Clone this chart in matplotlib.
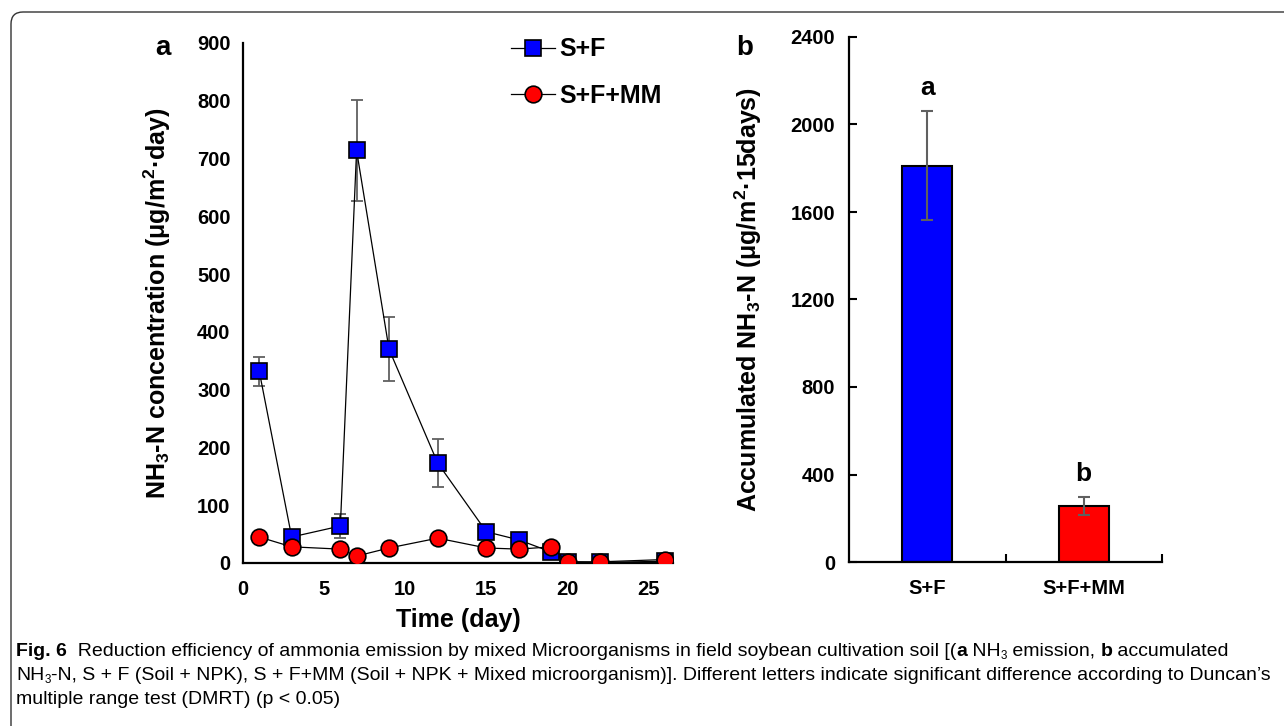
import matplotlib
matplotlib.use("Agg")
import matplotlib.pyplot as plt
from matplotlib.patches import FancyBboxPatch
from matplotlib.transforms import IdentityTransform

plt.rcParams['font.family'] = ['Liberation Sans', 'DejaVu Sans']
plt.rcParams['font.weight'] = 'bold'
plt.rcParams['mathtext.fontset'] = 'custom'
plt.rcParams['mathtext.rm'] = 'Liberation Sans'
plt.rcParams['mathtext.bf'] = 'Liberation Sans:bold'

# panel a: daily NH3-N emission
days = [1, 3, 6, 7, 9, 12, 15, 17, 19, 20, 22, 26]
sf = [332, 45, 64, 714, 370, 173, 54, 40, 19, 2, 1, 3]
sf_err = [25, 6, 20, 87, 55, 42, 6, 5, 4, 2, 1, 2]
sfmm = [45, 28, 24, 12, 26, 43, 26, 24, 28, 2, 2, 6]
sfmm_err = [4, 4, 4, 3, 4, 4, 4, 3, 4, 1, 1, 1]

# panel b: accumulated NH3-N
treatments = ['S+F', 'S+F+MM']
accum = [1812, 257]
accum_err = [248, 40]
letters = ['a', 'b']
bar_colors = ['#0000FF', '#FF0000']

W, H = 1284, 726
fig = plt.figure(figsize=(W / 100, H / 100), dpi=100)

# ---- panel a ----
ax = fig.add_axes([243 / W, 1 - 563 / H, 430 / W, 520 / H])
ax.errorbar(days, sf, yerr=sf_err, fmt='none', ecolor='#606060', elinewidth=1.3,
            capsize=4, capthick=1.3, zorder=2)
ax.plot(days, sf, '-s', color='black', lw=0.9, ms=11.5, mfc='#0000FF', mec='black',
        mew=1.2, label='S+F', zorder=3)
ax.plot(days, sfmm, '-o', color='black', lw=0.9, ms=12, mfc='#FF0000', mec='black',
        mew=1.2, label='S+F+MM', zorder=4)
ax.set_xlim(0, 26.5)
ax.set_ylim(0, 900)
ax.set_xticks([0, 5, 10, 15, 20, 25])
ax.set_yticks(range(0, 901, 100))
ax.tick_params(axis='y', length=0, labelsize=14.5, pad=9)
ax.tick_params(axis='x', length=0, labelsize=14.5, pad=12)
for s in ['top', 'right']:
    ax.spines[s].set_visible(False)
for s in ['left', 'bottom']:
    ax.spines[s].set_linewidth(1.6)
ax.set_xlabel('Time (day)', fontsize=18, fontweight='bold', labelpad=7)
ax.set_ylabel(r'NH$_3$-N concentration (μg/m$^2$·day)', fontsize=18, fontweight='bold', labelpad=17)
ax.legend(loc='upper left', bbox_to_anchor=(0.6, 1.03), frameon=False, fontsize=18,
          handlelength=1.75, handletextpad=0.2, labelspacing=0.9, borderaxespad=0)
fig.text(163 / W, 1 - 48 / H, 'a', fontsize=20, fontweight='bold', ha='center', va='center')

# ---- panel b ----
bx = fig.add_axes([849 / W, 1 - 562 / H, 313 / W, 525 / H])
pos = list(range(len(treatments)))
bx.bar(pos, accum, width=0.32, color=bar_colors, edgecolor='black', linewidth=1.5, zorder=2)
bx.errorbar(pos, accum, yerr=accum_err, fmt='none', ecolor='#606060', elinewidth=1.5,
            capsize=4, capthick=1.5, zorder=3)
for p, v, e, t in zip(pos, accum, accum_err, letters):
    bx.annotate(t, (p, v + e), xytext=(0, 16.5), textcoords='offset points',
                ha='center', va='center', fontsize=19, fontweight='bold')
bx.set_xlim(-0.5, 1.5)
bx.set_ylim(0, 2400)
bx.set_yticks(range(0, 2401, 400))
bx.set_xticks(pos)
bx.set_xticklabels(treatments)
bx.set_xticks([0.5, 1.5], minor=True)
bx.tick_params(axis='x', which='major', length=0, labelsize=14.5, pad=12)
bx.tick_params(axis='x', which='minor', direction='in', length=6, width=1.5)
bx.tick_params(axis='y', direction='in', length=6, width=1.5, labelsize=14.5, pad=10)
for s in ['top', 'right']:
    bx.spines[s].set_visible(False)
for s in ['left', 'bottom']:
    bx.spines[s].set_linewidth(1.6)
bx.set_ylabel(r'Accumulated NH$_3$-N (μg/m$^2$·15days)', fontsize=18, fontweight='bold', labelpad=19)
fig.text(745 / W, 1 - 48 / H, 'b', fontsize=20, fontweight='bold', ha='center', va='center')

# ---- rounded frame ----
frame = FancyBboxPatch((11, -30), W + 40, H - 12 + 30, boxstyle='round,pad=0,rounding_size=12',
                       transform=IdentityTransform(), fill=False, edgecolor='#333333', lw=1.0)
fig.patches.append(frame)

# ---- caption ----
cap_font = ['Liberation Sans', 'DejaVu Sans']
cap_size = 14
cap_lines = [
    [('Fig. 6', 'bold'), ('  Reduction efficiency of ammonia emission by mixed Microorganisms in field soybean cultivation soil [(', 'normal'),
     ('a', 'bold'), (' NH', 'normal'), ('3', 'sub'), (' emission, ', 'normal'), ('b', 'bold'), (' accumulated', 'normal')],
    [('NH', 'normal'), ('3', 'sub'), ('-N, S + F (Soil + NPK), S + F+MM (Soil + NPK + Mixed microorganism)]. Different letters indicate significant difference according to Duncan\u2019s', 'normal')],
    [('multiple range test (DMRT) (p < 0.05)', 'normal')],
]
fig.canvas.draw()
renderer = fig.canvas.get_renderer()
y0 = 651
for i, line in enumerate(cap_lines):
    x = 16
    y = y0 + i * 24
    for txt, style in line:
        if style == 'sub':
            t = fig.text(x / W, 1 - (y + 5) / H, txt, fontsize=cap_size * 0.6, fontweight='normal',
                         family=cap_font, va='center', ha='left')
        else:
            t = fig.text(x / W, 1 - y / H, txt, fontsize=cap_size, fontweight=style,
                         family=cap_font, va='center', ha='left')
        x += t.get_window_extent(renderer).width

fig.savefig('out.png', dpi=100)
